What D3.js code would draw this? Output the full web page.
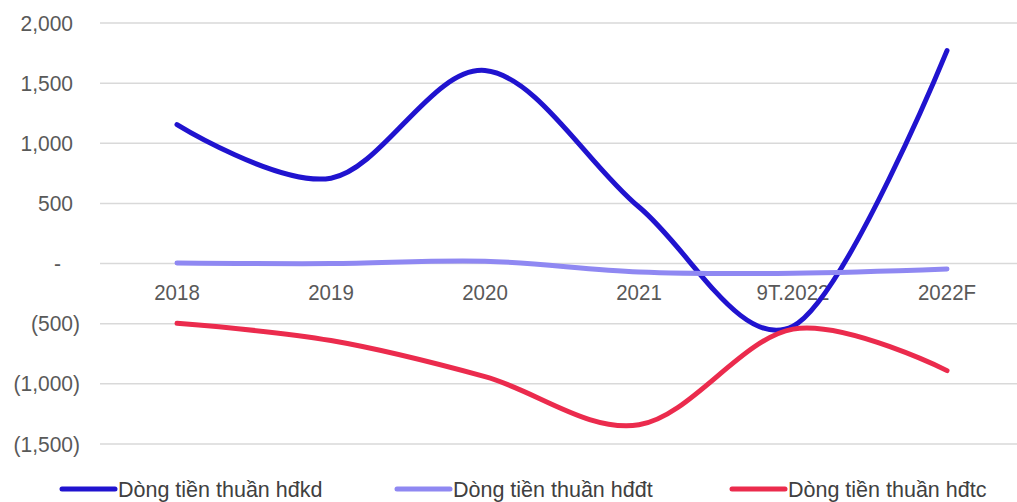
<!DOCTYPE html>
<html><head><meta charset="utf-8">
<script src="https://cdn.jsdelivr.net/npm/d3@7"></script>
<style>html,body{margin:0;padding:0;background:#fff;}svg{display:block;}</style>
</head><body>
<svg id="chart" width="1017" height="502"></svg>
<script>
const categories = ["2018", "2019", "2020", "2021", "9T.2022", "2022F"];
const hdkd = [1155, 710, 1605, 470, -520, 1770];
const hddt = [5, 0, 20, -70, -80, -45];
const hdtc = [-497, -640, -940, -1340, -545, -890];
const yTicks = [-1500, -1000, -500, 0, 500, 1000, 1500, 2000];
const seriesNames = ["Dòng tiền thuần hđkd", "Dòng tiền thuần hđđt", "Dòng tiền thuần hđtc"];
const colors = ["#2013CF", "#8F88F2", "#EB2B4D"];

const svg = d3.select("#chart");
const x = d3.scaleBand().domain(categories).range([100, 1024]).padding(0);
const cx = c => x(c) + x.bandwidth() / 2;
const y = d3.scaleLinear().domain([-1500, 2000]).range([444, 23]);
const font = "'Liberation Sans', Arial, sans-serif";

// grid
svg.append("g").selectAll("line").data(yTicks).join("line")
  .attr("x1", 100).attr("x2", 1017)
  .attr("y1", d => y(d)).attr("y2", d => y(d))
  .attr("stroke", "#d9d9d9").attr("stroke-width", 1.5);

// y labels (accounting format)
function fmt(d) {
  if (d === 0) return "-";
  const s = d3.format(",")(Math.abs(d));
  return d < 0 ? "(" + s + ")" : s;
}
svg.append("g").selectAll("text").data(yTicks).join("text")
  .attr("transform", d => `translate(${d < 0 ? 80 : (d === 0 ? 61 : 73)},${y(d) + 7.5}) scale(1,1.08)`)
  .attr("text-anchor", "end")
  .attr("font-family", font).attr("font-size", 21).attr("fill", "#595959")
  .text(fmt);

// x labels
svg.append("g").selectAll("text").data(categories).join("text")
  .attr("transform", d => `translate(${cx(d)},${300}) scale(1,1.12)`)
  .attr("text-anchor", "middle")
  .attr("font-family", font).attr("font-size", 20.5).attr("fill", "#595959")
  .text(d => d);

// lines
const line = d3.line().x((d, i) => cx(categories[i])).y(d => y(d)).curve(d3.curveCardinal.tension(0));
[hdkd, hddt, hdtc].forEach((s, k) => {
  svg.append("path").datum(s).attr("d", line)
    .attr("fill", "none").attr("stroke", colors[k]).attr("stroke-width", 5)
    .attr("stroke-linecap", "round").attr("stroke-linejoin", "round");
});

// legend
const legendX = [60, 395, 730];
seriesNames.forEach((n, k) => {
  const g = svg.append("g");
  g.append("line").attr("x1", legendX[k] + 2).attr("x2", legendX[k] + 55)
    .attr("y1", 489).attr("y2", 489)
    .attr("stroke", colors[k]).attr("stroke-width", 5).attr("stroke-linecap", "round");
  g.append("text").attr("x", legendX[k] + 58).attr("y", 497)
    .attr("font-family", font).attr("font-size", 21.5).attr("fill", "#404040")
    .text(n);
});
</script>
</body></html>
